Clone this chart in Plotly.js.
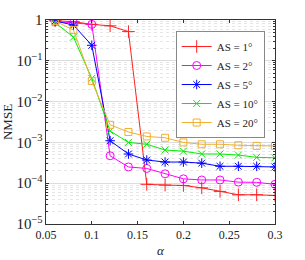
<!DOCTYPE html>
<html><head><meta charset="utf-8">
<script src="https://cdn.plot.ly/plotly-3.0.1.min.js"></script>
<style>html,body{margin:0;padding:0;background:#fff;}#chart{width:305px;height:260px;}</style>
</head><body><div id="chart"></div>
<script>
const alpha = [0.06,0.08,0.10,0.12,0.14,0.16,0.18,0.20,0.22,0.24,0.26,0.28,0.30];
const as1  = [0.96,0.91,0.78,0.72,0.52,9.4e-5,9.0e-5,8.8e-5,7.7e-5,6.3e-5,5.2e-5,5.2e-5,5.0e-5];
const as2  = [0.92,0.85,0.78,4.7e-4,2.5e-4,2.3e-4,1.7e-4,1.28e-4,1.2e-4,1.2e-4,1.06e-4,1.05e-4,9.4e-5];
const as5  = [0.95,0.75,0.24,1.1e-3,5.2e-4,3.7e-4,3.3e-4,3.3e-4,3.1e-4,2.6e-4,2.6e-4,2.6e-4,2.5e-4];
const as10 = [0.86,0.38,0.037,1.9e-3,1.0e-3,9.0e-4,6.5e-4,6.1e-4,5.2e-4,5.2e-4,4.9e-4,4.3e-4,4.2e-4];
const as20 = [0.94,0.57,0.032,2.7e-3,1.8e-3,1.4e-3,1.3e-3,1.0e-3,9.0e-4,9.0e-4,8.5e-4,8.2e-4,8.2e-4];
const names = ['AS = 1°','AS = 2°','AS = 5°','AS = 10°','AS = 20°'];
const series = [as1, as2, as5, as10, as20];
const colors = ['#ff2020','#ff00ff','#0000ff','#00ee00','#f0b030'];
const symbols = ['cross-thin-open','circle-open','asterisk-open','x-thin-open','square-open'];
const msizes = [9,8,8,7,7];
const traces = series.map((y,i)=>({
  x: alpha, y: y, name: names[i], type:'scatter', mode:'lines+markers',
  line:{color:colors[i], width:1},
  marker:{symbol:symbols[i], size:msizes[i], color:colors[i], line:{color:colors[i], width:1}}
}));
const font = {family:'"Liberation Serif", "DejaVu Serif", serif', size:12, color:'#222'};
const layout = {
  width:305, height:260,
  margin:{l:46, r:30, t:20, b:36},
  paper_bgcolor:'#fff', plot_bgcolor:'#fff',
  font: font,
  showlegend:true,
  legend:{x:0.955, y:0.946, xanchor:'right', yanchor:'top', bgcolor:'#fff', bordercolor:'#888', borderwidth:1,
          font:{family:font.family, size:11, color:'#222'}, tracegroupgap:0, itemwidth:30},
  xaxis:{range:[0.05,0.3], tickvals:[0.05,0.1,0.15,0.2,0.25,0.3], ticktext:['0.05','0.1','0.15','0.2','0.25','0.3'],
         showgrid:false, zeroline:false, showline:true, linecolor:'#333', linewidth:1, mirror:'ticks',
         ticks:'inside', ticklen:3, tickcolor:'#333',
         title:{text:'<i>α</i>', font:{family:font.family, size:13}, standoff:4}},
  yaxis:{type:'log', range:[-5,0], dtick:1, exponentformat:'power',
         showgrid:true, gridcolor:'#dcdcdc', gridwidth:1, zeroline:false,
         showline:true, linecolor:'#333', linewidth:1, mirror:'ticks',
         ticks:'inside', ticklen:3, tickcolor:'#333',
         minor:{showgrid:true, gridcolor:'#e6e6e6', griddash:'dot', ticks:'inside', ticklen:2, tickcolor:'#333'},
         title:{text:'NMSE', font:{family:font.family, size:13}, standoff:4}}
};
Plotly.newPlot('chart', traces, layout, {displayModeBar:false, staticPlot:true});
</script></body></html>
